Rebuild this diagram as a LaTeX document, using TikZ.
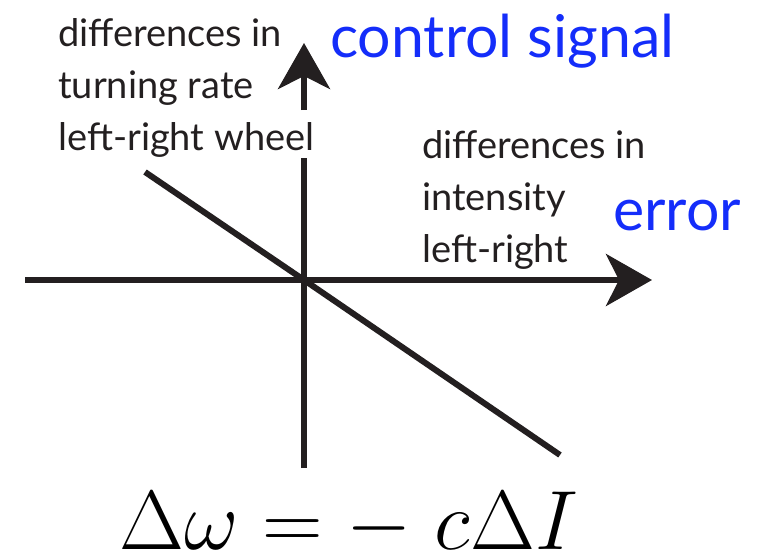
\RequirePackage{fix-cm}
\documentclass[tikz,border=0pt]{standalone}
\usepackage{fontspec}
\newfontfamily\gill{Lato}
\usetikzlibrary{arrows.meta}
\definecolor{sigblue}{RGB}{20,45,250}
\definecolor{ink}{RGB}{35,31,32}

\begin{document}
\begin{tikzpicture}[x=1pt,y=-1pt,
    axis/.style={draw=ink, line width=6pt},
    tip/.style={-{Stealth[length=46pt,width=52pt,inset=13pt]}},
    lbl/.style={text=ink, font=\gill\fontsize{38}{52}\selectfont, align=left, anchor=north west, inner sep=0pt},
    blu/.style={text=sigblue, font=\gill\fontsize{59}{64}\selectfont, anchor=base west, inner sep=0pt}]
	\useasboundingbox (0,0) rectangle (761,555);
	% axes
	\coordinate (o) at (304,280);
	\coordinate (xl) at (25,280);
	\coordinate (xr) at (652,280);
	\coordinate (yb) at (304,468);
	\coordinate (gb) at (304,158);
	\coordinate (ga) at (304,110);
	\coordinate (yt) at (304,43);
	\draw[axis,tip] (xl) -- (xr);
	\draw[axis] (yb) -- (gb);
	\draw[axis,tip] (ga) -- (yt);
	% control law
	\coordinate (la) at (145,172);
	\coordinate (lb) at (560,455);
	\draw[axis] (la) -- (o) -- (lb);
	% labels
	\node[lbl] (turn) at (58,18) {differences in\\turning rate\\left-right wheel};
	\node[lbl] (intens) at (422,130) {differences in\\intensity\\left-right};
	\node[blu] (ctrl) at (330,57) {control signal};
	\node[blu] (err) at (613,230) {error};
	\node[anchor=base, inner sep=0pt, font=\fontsize{84}{90}\selectfont] (law) at (349,549) {$\Delta\omega = -\;c\Delta I$};
\end{tikzpicture}
\end{document}
